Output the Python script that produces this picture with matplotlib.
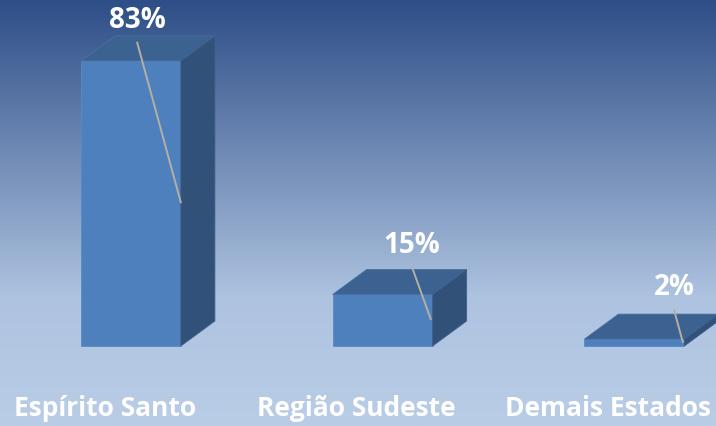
import numpy as np
import matplotlib
matplotlib.use('Agg')
import matplotlib.pyplot as plt
from matplotlib.patches import Polygon
from matplotlib.colors import LinearSegmentedColormap

# data
categories = ['Espírito Santo', 'Região Sudeste', 'Demais Estados']
values = [83, 15, 2]
labels = ['83%', '15%', '2%']

FRONTCOLOR = '#4E80BD'
TOPCOLOR = '#3B6290'
SIDECOLOR = '#325179'
LEADERCOLOR = '#B5AFA2'

fig = plt.figure(figsize=(7.16, 4.26), dpi=100)
ax = fig.add_axes([0, 0, 1, 1])
ax.set_xlim(-0.520, 2.324)
ax.set_ylim(-23.3, 100.76)
ax.axis('off')

# background gradient (dark blue on top, light blue near the bottom)
bg = LinearSegmentedColormap.from_list('bg', [(0.0, '#2E4E87'), (0.70, '#AEC3E0'), (1.0, '#B9CDE6')])
grad = np.linspace(0, 1, 400).reshape(-1, 1)
ax.imshow(grad, cmap=bg, aspect='auto', extent=[-0.520, 2.324, -23.3, 100.76], origin='upper', zorder=0)

width = 0.397     # bar front width
dx = 0.135        # depth offset in x
dy = 7.28         # depth offset in y

for i, v in enumerate(values):
    x0 = i - width / 2
    x1 = i + width / 2
    front = Polygon([(x0, 0), (x1, 0), (x1, v), (x0, v)], closed=True,
                    facecolor=FRONTCOLOR, edgecolor='#5A8AC4', lw=0.6, zorder=3)
    top = Polygon([(x0, v), (x1, v), (x1 + dx, v + dy), (x0 + dx, v + dy)], closed=True,
                  facecolor=TOPCOLOR, edgecolor='#4670A0', lw=0.6, zorder=3)
    side = Polygon([(x1, 0), (x1 + dx, dy), (x1 + dx, v + dy), (x1, v)], closed=True,
                   facecolor=SIDECOLOR, edgecolor='#3D5F8A', lw=0.6, zorder=3)
    for p in (front, top, side):
        ax.add_patch(p)

# value labels with leader lines
label_x = [0.024, 0.116, 0.157]      # offset of label from bar center
label_dy = [11.9, 14.4, 14.9]        # label height above bar top
line_end = [(0.199, 41.6), (0.192, 7.6), (0.193, 0.9)]
for i, v in enumerate(values):
    lx = i + label_x[i]
    ly = v + label_dy[i]
    ex, ey = line_end[i]
    ax.plot([lx, i + ex], [ly - 6.3, ey], color=LEADERCOLOR, lw=1.4, zorder=4,
            solid_capstyle='butt')
    ax.text(lx, ly, labels[i], ha='center', va='center', color='white',
            fontsize=20, fontweight='bold', family='Open Sans', zorder=5)

# category labels
for i, c in enumerate(categories):
    ax.text(i - 0.103, -18.3, c, ha='center', va='center', color='white',
            fontsize=19, fontweight='bold', family='Open Sans', zorder=5)

fig.savefig('out.png', dpi=100)
